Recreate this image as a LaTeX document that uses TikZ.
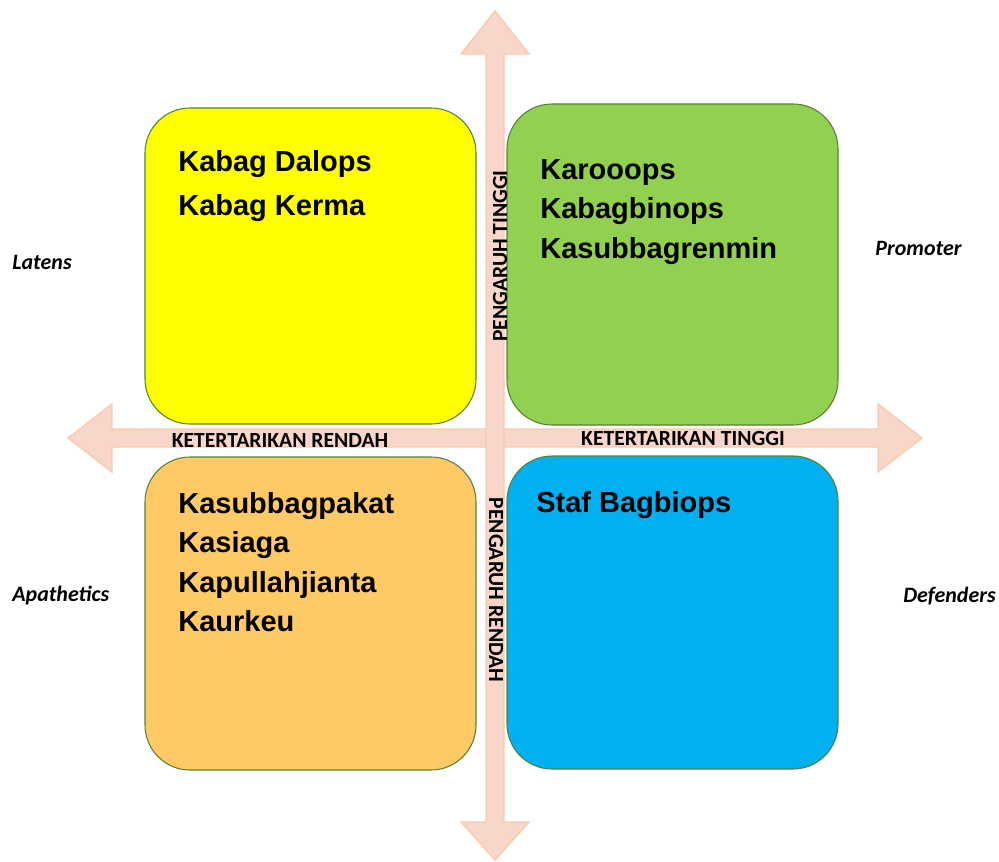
\documentclass[tikz,border=0pt]{standalone}
\usepackage{fontspec}
\setmainfont{Liberation Sans}
\newfontfamily\calib{Carlito}
\definecolor{arrowfill}{RGB}{248,214,202}
\definecolor{arrowline}{RGB}{248,203,173}
\definecolor{boxline}{RGB}{84,130,53}
\definecolor{qyellow}{RGB}{255,255,0}
\definecolor{qgreen}{RGB}{146,208,80}
\definecolor{qorange}{RGB}{255,201,102}
\definecolor{qblue}{RGB}{0,176,240}

\begin{document}
\begin{tikzpicture}
        [x=0.02cm, y=-0.02cm,
        quad/.style={draw=boxline, line width=0.6pt, rounded corners=0.9cm},
        names/.style={align=left, anchor=north west, inner sep=0, font=\bfseries\fontsize{16.5}{22.4}\selectfont},
        axis/.style={inner sep=0, font=\calib\bfseries\fontsize{12.3}{14}\selectfont},
        role/.style={inner sep=0, anchor=west, font=\calib\bfseries\itshape\fontsize{12.5}{14}\selectfont}]

        \useasboundingbox (0,0) rectangle (999,861);

        % axes
        \draw[fill=arrowfill, draw=arrowline, line width=0.8pt] (68,438) -- (112,404) -- (112,429) -- (878,429) -- (878,404)
          -- (922,438) -- (878,472) -- (878,447) -- (112,447) -- (112,472) -- cycle;
        \draw[fill=arrowfill, draw=arrowline, line width=0.8pt] (495,11) -- (529,54) -- (504,54) -- (504,822) -- (529,822)
          -- (495,860) -- (461,822) -- (486,822) -- (486,54) -- (461,54) -- cycle;

        % quadrants
        \draw[quad, fill=qyellow] (145,108) rectangle (476,424);
        \draw[quad, fill=qgreen] (507,104) rectangle (838,425);
        \draw[quad, fill=qorange] (145,457) rectangle (476,770);
        \draw[quad, fill=qblue] (507,456) rectangle (838,769);

        \node[names] (latenlist) at (178,150) {Kabag Dalops\\[2.5pt] Kabag Kerma};
        \node[names] (promlist) at (540,159) {Karooops\\ Kabagbinops\\ Kasubbagrenmin};
        \node[names] (apatlist) at (178,492) {Kasubbagpakat\\ Kasiaga\\ Kapullahjianta\\ Kaurkeu};
        \node[names] (deflist) at (536,491) {Staf Bagbiops};

        \node[axis] (lowint) at (280,440) {KETERTARIKAN RENDAH};
        \node[axis] (highint) at (683,438) {KETERTARIKAN TINGGI};
        \node[axis, rotate=90] (highinf) at (500,256) {PENGARUH TINGGI};
        \node[axis, rotate=-90] (lowinf) at (496,590) {PENGARUH RENDAH};

        \node[role] (latens) at (12,262) {Latens};
        \node[role] (promoter) at (875,248) {Promoter};
        \node[role] (apathetics) at (12,596) {Apathetics};
        \node[role] (defenders) at (903,596) {Defenders};

      \end{tikzpicture}
\end{document}
